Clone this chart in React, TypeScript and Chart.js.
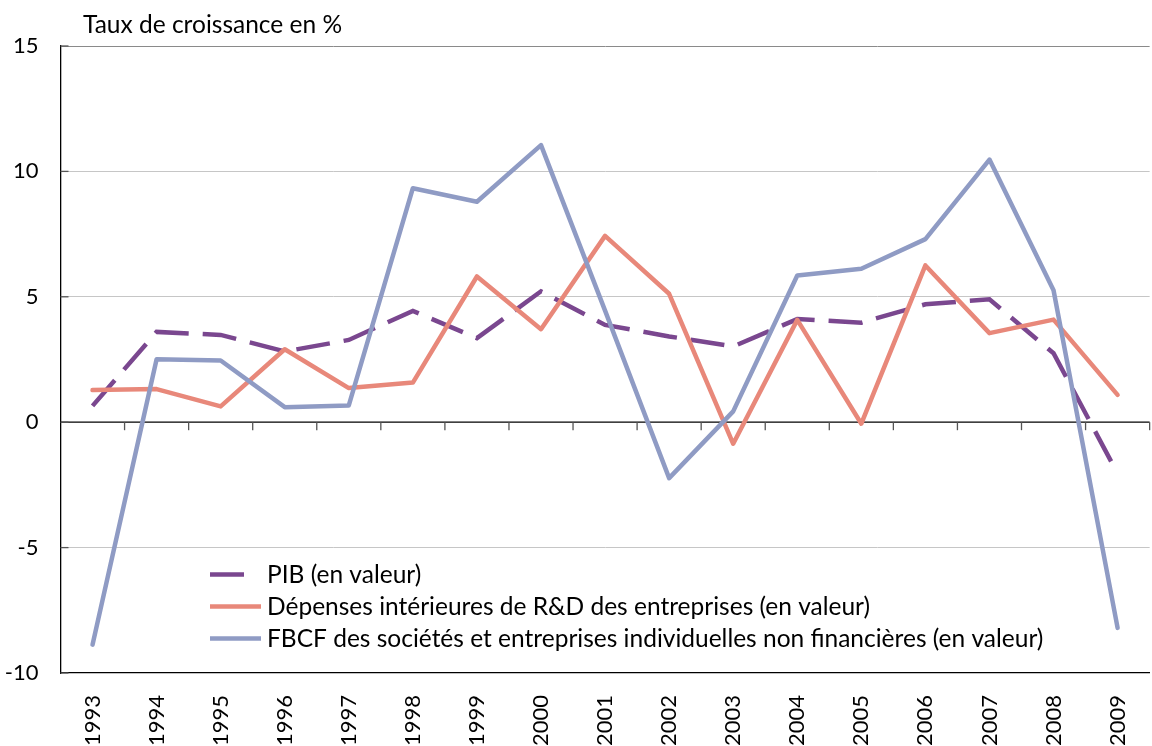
import React, { useEffect, useRef } from "react";
import { Chart, registerables } from "chart.js";

Chart.register(...registerables);

const years = ["1993", "1994", "1995", "1996", "1997", "1998", "1999", "2000", "2001", "2002", "2003", "2004", "2005", "2006", "2007", "2008", "2009"];
const pib = [0.65, 3.6, 3.48, 2.82, 3.28, 4.44, 3.35, 5.22, 3.88, 3.42, 3.02, 4.11, 3.97, 4.7, 4.9, 2.75, -2.05];
const rd = [1.28, 1.32, 0.63, 2.91, 1.36, 1.58, 5.81, 3.71, 7.43, 5.12, -0.86, 4.08, -0.06, 6.25, 3.55, 4.09, 1.09];
const fbcf = [-8.87, 2.51, 2.46, 0.6, 0.67, 9.33, 8.79, 11.05, 4.45, -2.23, 0.43, 5.85, 6.12, 7.3, 10.47, 5.26, -8.2];
const seriesLabels = [
  "PIB (en valeur)",
  "Dépenses intérieures de R&D des entreprises (en valeur)",
  "FBCF des sociétés et entreprises individuelles non financières (en valeur)",
];
const seriesColors = ["#7A478F", "#E8887A", "#8F9BC4"];
const yMin = -10;
const yMax = 15;
const yStep = 5;
const axisTitle = "Taux de croissance en %";

const FONT = "Lato, 'Noto Sans', sans-serif";
const TICK_FONT_SIZE = 22;
const TEXT_FONT_SIZE = 24.5;

const decorPlugin = {
  id: "decor",
  beforeDatasetsDraw(chart: any) {
    const { ctx, chartArea, scales } = chart;
    const x = scales.x;
    const y = scales.y;
    const y0 = y.getPixelForValue(0);
    ctx.save();
    ctx.strokeStyle = "#000";
    ctx.lineWidth = 1.3;
    ctx.beginPath();
    ctx.moveTo(chartArea.left, y0);
    ctx.lineTo(chartArea.right, y0);
    ctx.stroke();
    ctx.strokeStyle = "#555";
    ctx.lineWidth = 1.3;
    const n = years.length;
    for (let i = 1; i <= n; i++) {
      const px = i < n ? (x.getPixelForValue(i - 1) + x.getPixelForValue(i)) / 2 : chartArea.right;
      ctx.beginPath();
      ctx.moveTo(px, y0);
      ctx.lineTo(px, y0 + 8);
      ctx.stroke();
    }
    for (let v = yMin; v <= yMax; v += yStep) {
      const py = y.getPixelForValue(v);
      ctx.beginPath();
      ctx.moveTo(chartArea.left, py);
      ctx.lineTo(chartArea.left + 8, py);
      ctx.stroke();
    }
    ctx.restore();
  },
  afterDraw(chart: any) {
    const { ctx } = chart;
    ctx.save();
    ctx.font = `${TEXT_FONT_SIZE}px ${FONT}`;
    ctx.fillStyle = "#000";
    ctx.textBaseline = "alphabetic";
    ctx.textAlign = "left";
    ctx.fillText(axisTitle, 83, 33);

    const ds = chart.data.datasets;
    for (let i = 0; i < ds.length; i++) {
      const ly = 574.5 + i * 32;
      ctx.strokeStyle = ds[i].borderColor;
      ctx.lineWidth = 4.5;
      ctx.lineCap = "butt";
      ctx.setLineDash(ds[i].borderDash || []);
      ctx.beginPath();
      ctx.moveTo(210, ly);
      ctx.lineTo(ds[i].borderDash ? 256 : 261, ly);
      ctx.stroke();
      ctx.setLineDash([]);
      ctx.fillStyle = "#000";
      ctx.textBaseline = "middle";
      ctx.fillText(ds[i].label, 267, ly + 1);
    }
    ctx.restore();
  },
};

export default function App() {
  const ref = useRef<HTMLCanvasElement | null>(null);
  useEffect(() => {
    if (!ref.current) return;
    const chart = new Chart(ref.current, {
      type: "line",
      data: {
        labels: years,
        datasets: [
          {
            label: seriesLabels[0],
            data: pib,
            borderColor: seriesColors[0],
            backgroundColor: seriesColors[0],
            borderWidth: 4.5,
            borderDash: [34, 14],
            borderCapStyle: "butt",
            pointRadius: 0,
            tension: 0,
            order: 2,
          },
          {
            label: seriesLabels[1],
            data: rd,
            borderColor: seriesColors[1],
            backgroundColor: seriesColors[1],
            borderWidth: 4.5,
            borderJoinStyle: "round",
            borderCapStyle: "round",
            pointRadius: 0,
            tension: 0,
            order: 1,
          },
          {
            label: seriesLabels[2],
            data: fbcf,
            borderColor: seriesColors[2],
            backgroundColor: seriesColors[2],
            borderWidth: 4.5,
            borderJoinStyle: "round",
            borderCapStyle: "round",
            pointRadius: 0,
            tension: 0,
            order: 0,
          },
        ],
      },
      options: {
        responsive: false,
        animation: false,
        devicePixelRatio: 1,
        layout: { padding: { top: 46, left: 0, right: 0, bottom: 0 } },
        plugins: { legend: { display: false }, tooltip: { enabled: false }, title: { display: false } },
        scales: {
          x: {
            offset: true,
            grid: { display: false, drawTicks: false },
            border: { display: true, color: "#000", width: 1.3 },
            ticks: {
              autoSkip: false,
              minRotation: 90,
              maxRotation: 90,
              padding: 22,
              color: "#000",
              font: { family: FONT, size: TICK_FONT_SIZE },
            },
            afterFit: (s: any) => {
              s.height = 73;
            },
          },
          y: {
            min: yMin,
            max: yMax,
            ticks: {
              stepSize: yStep,
              color: "#000",
              padding: 22,
              font: { family: FONT, size: TICK_FONT_SIZE },
            },
            grid: {
              drawTicks: false,
              lineWidth: 1,
              color: (c: any) => {
                const v = c.tick ? c.tick.value : null;
                if (v === yMax) return "#8a8a8a";
                if (v === 0 || v === yMin) return "rgba(0,0,0,0)";
                return "#c6c6c6";
              },
            },
            border: { display: true, color: "#000", width: 1.3 },
            afterFit: (s: any) => {
              s.width = 60.5;
            },
          },
        },
      },
      plugins: [decorPlugin],
    });
    return () => chart.destroy();
  }, []);

  return (
    <div style={{ position: "fixed", left: 0, top: 0, width: 1152, height: 746, overflow: "hidden", background: "#fff" }}>
      <canvas ref={ref} width={1166} height={746} style={{ display: "block", width: 1166, height: 746 }} />
    </div>
  );
}
